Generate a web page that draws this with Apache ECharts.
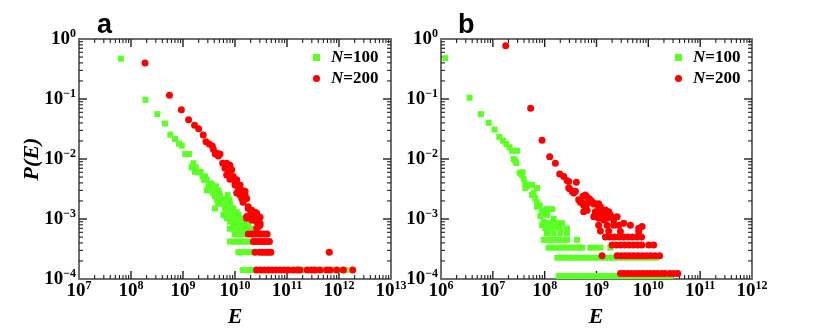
<!DOCTYPE html>
<html>
<head>
<meta charset="utf-8">
<script src="https://cdn.jsdelivr.net/npm/echarts@6/dist/echarts.min.js"></script>
<style>
  html, body { margin: 0; padding: 0; background: #fff; }
  #chart { width: 830px; height: 333px; }
</style>
</head>
<body>
<div id="chart"></div>
<script>
// Energy distributions P(E), two panels, two system sizes each

const seriesNames = ['N=100', 'N=200'];
const panelLabels = ['a', 'b'];
const xRangeA = [1e7, 1e13];
const xRangeB = [1e6, 1e12];
const yRange = [1e-4, 1];

// panel a, N=100  [E, P]
const aGreen = [
  [6.4e7, 0.47], [1.9e8, 0.097], [3.2e8, 0.056], [4.5e8, 0.039], [5.7e8, 0.0254], [7.0e8, 0.0216],
  [8.4e8, 0.018], [9.5e8, 0.0167], [1.1e9, 0.0121], [1.3e9, 0.0121], [1.58e9, 0.0085], [1.47e9, 0.0073],
  [1.75e9, 0.0073], [1.7e9, 0.0061], [1.97e9, 0.0061], [2.19e9, 0.0061], [2.39e9, 0.0051], [2.65e9, 0.0051],
  [2.53e9, 0.0045], [2.86e9, 0.0045], [3.2e9, 0.0039], [3.56e9, 0.0039], [3.07e9, 0.0035], [3.83e9, 0.0035],
  [4.3e9, 0.0035], [2.86e9, 0.003], [3.56e9, 0.003], [4.45e9, 0.003], [4.78e9, 0.003], [3.83e9, 0.0027],
  [4.99e9, 0.0027], [7.2e9, 0.0025], [4.12e9, 0.0024], [4.57e9, 0.0024], [5.15e9, 0.0024], [4.45e9, 0.0021],
  [5.55e9, 0.0021], [6.42e9, 0.0021], [7.77e9, 0.0021], [4.78e9, 0.0018], [5.96e9, 0.0018], [6.92e9, 0.0018],
  [8.0e9, 0.0018], [4.12e9, 0.0015], [6.42e9, 0.0015], [7.77e9, 0.0015], [9.27e9, 0.0015], [6.92e9, 0.0013],
  [8.65e9, 0.0013], [1.08e10, 0.0013], [5.96e9, 0.00117], [8.0e9, 0.00117], [1.0e10, 0.00117], [1.16e10, 0.00117],
  [6.92e9, 0.00103], [8.65e9, 0.00103], [1.08e10, 0.00103], [1.35e10, 0.00103], [8.0e9, 9.0e-4], [1.0e10, 9.0e-4],
  [1.25e10, 9.0e-4], [1.56e10, 9.0e-4], [9.27e9, 7.9e-4], [1.16e10, 7.9e-4], [1.43e10, 7.9e-4], [1.8e10, 7.9e-4],
  [8.0e9, 6.9e-4], [9.3e9, 6.9e-4], [1.08e10, 6.9e-4], [1.25e10, 6.9e-4], [1.45e10, 6.9e-4], [1.7e10, 6.9e-4], [2.0e10, 6.9e-4],
  [1.0e10, 5.6e-4], [1.2e10, 5.6e-4], [1.4e10, 5.6e-4], [1.65e10, 5.6e-4], [1.9e10, 5.6e-4], [2.2e10, 5.6e-4],
  [8.0e9, 4.2e-4], [9.5e9, 4.2e-4], [1.1e10, 4.2e-4], [1.3e10, 4.2e-4], [1.55e10, 4.2e-4], [1.8e10, 4.2e-4],
  [2.1e10, 4.2e-4], [2.5e10, 4.2e-4], [3.0e10, 4.2e-4], [3.6e10, 4.2e-4],
  [1.16e10, 2.8e-4], [1.35e10, 2.8e-4], [1.6e10, 2.8e-4], [1.9e10, 2.8e-4], [2.2e10, 2.8e-4], [2.6e10, 2.8e-4],
  [3.1e10, 2.8e-4], [3.7e10, 2.8e-4], [4.4e10, 2.8e-4],
  [1.4e10, 1.41e-4], [1.8e10, 1.41e-4], [2.2e10, 1.41e-4], [2.8e10, 1.41e-4], [3.5e10, 1.41e-4], [4.5e10, 1.41e-4],
  [5.6e10, 1.41e-4], [7e10, 1.41e-4], [9e10, 1.41e-4], [1.1e11, 1.41e-4], [1.4e11, 1.41e-4], [1.8e11, 1.41e-4],
  [2.2e11, 1.41e-4], [2.8e11, 1.41e-4], [3.5e11, 1.41e-4], [4.5e11, 1.41e-4], [5.6e11, 1.41e-4], [7e11, 1.41e-4],
  [9e11, 1.41e-4], [1.1e12, 1.41e-4], [1.35e12, 1.41e-4]
];

// panel a, N=200
const aRed = [
  [1.86e8, 0.40], [5.5e8, 0.115], [9.3e8, 0.066], [1.28e9, 0.045], [1.67e9, 0.0365], [2.0e9, 0.032],
  [2.45e9, 0.025], [2.77e9, 0.0194], [3.2e9, 0.0178], [3.66e9, 0.0165], [3.83e9, 0.0145], [4.45e9, 0.0125],
  [5.15e9, 0.0121], [4.78e9, 0.0112], [4.18e9, 0.0121], [5.8e9, 0.0085], [6.92e9, 0.0085], [8.0e9, 0.0079],
  [6.42e9, 0.007], [7.43e9, 0.0061], [8.65e9, 0.0066], [6.92e9, 0.0054], [9.27e9, 0.0051], [8.0e9, 0.0046],
  [1.0e10, 0.0042], [1.08e10, 0.0045], [1.25e10, 0.0037], [1.0e10, 0.0037], [1.16e10, 0.0033], [1.35e10, 0.003],
  [1.56e10, 0.0029], [1.08e10, 0.0027], [1.25e10, 0.0025], [1.56e10, 0.0025], [1.43e10, 0.0024], [1.35e10, 0.0022],
  [1.68e10, 0.0022], [1.43e10, 0.0019], [1.8e10, 0.0016], [1.8e10, 0.0015], [2.1e10, 0.0014], [2.43e10, 0.0013],
  [2.61e10, 0.00125], [1.94e10, 0.00117], [2.25e10, 0.0011], [2.61e10, 0.0011], [1.68e10, 0.0011], [3.03e10, 0.00107],
  [1.68e10, 0.00103], [2.1e10, 9.6e-4], [2.25e10, 9.6e-4], [2.61e10, 9.0e-4], [3.03e10, 8.5e-4], [3.03e10, 7.9e-4],
  [2.8e10, 7.4e-4], [2.61e10, 7.0e-4],
  [1.8e10, 5.6e-4], [2.1e10, 5.6e-4], [2.4e10, 5.6e-4], [2.8e10, 5.6e-4], [3.2e10, 5.6e-4], [3.7e10, 5.6e-4], [4.15e10, 5.6e-4],
  [2.25e10, 4.2e-4], [2.6e10, 4.2e-4], [3.0e10, 4.2e-4], [3.5e10, 4.2e-4], [4.0e10, 4.2e-4], [4.6e10, 4.2e-4],
  [2.43e10, 2.8e-4], [3.0e10, 2.8e-4], [3.4e10, 2.8e-4], [3.9e10, 2.8e-4], [4.4e10, 2.8e-4], [4.9e10, 2.8e-4], [6.5e11, 2.8e-4],
  [2.6e10, 1.41e-4], [3.1e10, 1.41e-4], [3.7e10, 1.41e-4], [4.4e10, 1.41e-4], [5.2e10, 1.41e-4], [6.2e10, 1.41e-4],
  [7.4e10, 1.41e-4], [8.8e10, 1.41e-4], [1.05e11, 1.41e-4], [1.32e11, 1.41e-4], [1.58e11, 1.41e-4], [1.78e11, 1.41e-4],
  [2.46e11, 1.41e-4], [2.98e11, 1.41e-4], [3.45e11, 1.41e-4], [4.3e11, 1.41e-4], [5.8e11, 1.41e-4], [6.7e11, 1.41e-4],
  [9.0e11, 1.41e-4], [1.21e12, 1.41e-4], [1.83e12, 1.41e-4]
];

// panel b, N=100
const bGreen = [
  [1.21e6, 0.48], [3.56e6, 0.105], [5.9e6, 0.056], [8.3e6, 0.04], [1.08e7, 0.031], [1.33e7, 0.0235],
  [1.57e7, 0.0202], [1.82e7, 0.0178], [2.11e7, 0.0157], [2.35e7, 0.0137], [2.93e7, 0.0137], [2.52e7, 0.01],
  [2.72e7, 0.0094], [2.85e7, 0.0085], [3.29e7, 0.0059], [3.76e7, 0.006], [3.5e7, 0.0058], [3.66e7, 0.0054],
  [3.94e7, 0.0046], [4.24e7, 0.0039], [4.91e7, 0.0037], [5.71e7, 0.0037], [4.57e7, 0.0035], [4.24e7, 0.0033],
  [7.13e7, 0.0033], [6.14e7, 0.0027], [5.71e7, 0.0025], [6.61e7, 0.0022], [7.13e7, 0.0019], [8.0e7, 0.0017],
  [7.13e7, 0.0016], [8.9e7, 0.0014], [1.11e8, 0.00146], [1.39e8, 0.00146], [9.57e7, 0.00124], [8.26e7, 0.00112],
  [1.11e8, 0.00117], [1.49e8, 0.00101], [9.57e7, 9.0e-4], [1.49e8, 9.0e-4], [1.19e8, 8.5e-4], [1.86e8, 8.5e-4],
  [2.17e8, 8.5e-4], [8.9e7, 7.9e-4], [1.61e8, 7.4e-4], [1.03e8, 7.0e-4], [1.29e8, 7.0e-4], [2.01e8, 7.0e-4],
  [2.7e8, 6.9e-4], [1.11e8, 5.8e-4], [1.49e8, 5.8e-4], [2.01e8, 5.8e-4], [2.7e8, 5.8e-4],
  [9.6e7, 4.5e-4], [1.15e8, 4.5e-4], [1.35e8, 4.5e-4], [1.6e8, 4.5e-4], [1.9e8, 4.5e-4], [2.3e8, 4.5e-4],
  [2.7e8, 4.5e-4], [4.2e8, 4.5e-4],
  [1.19e8, 3.33e-4], [1.4e8, 3.33e-4], [1.65e8, 3.33e-4], [1.95e8, 3.33e-4], [2.3e8, 3.33e-4], [2.75e8, 3.33e-4],
  [3.25e8, 3.33e-4], [3.85e8, 3.33e-4], [4.55e8, 3.33e-4], [5.3e8, 3.33e-4], [7.6e8, 3.33e-4], [9.5e8, 3.33e-4],
  [1.19e9, 3.33e-4], [1.85e9, 3.33e-4],
  [1.75e8, 2.26e-4], [2.2e8, 2.26e-4], [2.8e8, 2.26e-4], [3.5e8, 2.26e-4], [4.4e8, 2.26e-4], [5.5e8, 2.26e-4],
  [7e8, 2.26e-4], [8.8e8, 2.26e-4], [1.1e9, 2.26e-4], [1.4e9, 2.26e-4], [1.75e9, 2.26e-4], [2.2e9, 2.26e-4],
  [2.8e9, 2.26e-4], [3.5e9, 2.26e-4], [4.4e9, 2.26e-4], [5.5e9, 2.26e-4], [7e9, 2.26e-4], [8.8e9, 2.26e-4],
  [1.1e10, 2.26e-4], [1.4e10, 2.26e-4],
  [1.86e8, 1.12e-4], [2.3e8, 1.12e-4], [2.9e8, 1.12e-4], [3.7e8, 1.12e-4], [4.6e8, 1.12e-4], [5.8e8, 1.12e-4],
  [7.3e8, 1.12e-4], [9.2e8, 1.12e-4], [1.15e9, 1.12e-4], [1.45e9, 1.12e-4], [1.8e9, 1.12e-4], [2.3e9, 1.12e-4],
  [2.9e9, 1.12e-4], [3.6e9, 1.12e-4], [4.6e9, 1.12e-4], [5.8e9, 1.12e-4], [7.2e9, 1.12e-4], [9.1e9, 1.12e-4],
  [1.15e10, 1.12e-4], [1.45e10, 1.12e-4], [1.8e10, 1.12e-4], [2.3e10, 1.12e-4], [2.7e10, 1.12e-4]
];

// panel b, N=200
const bRed = [
  [1.77e7, 0.77], [5.37e7, 0.07], [8.9e7, 0.0205], [1.25e8, 0.0109], [1.61e8, 0.0085], [1.95e8, 0.0056],
  [2.33e8, 0.0051], [2.7e8, 0.0044], [2.91e8, 0.0042], [4.09e8, 0.0041], [2.91e8, 0.0033], [3.04e8, 0.0032],
  [3.38e8, 0.0029], [3.53e8, 0.0028], [3.92e8, 0.0029], [3.63e8, 0.0027], [5.5e8, 0.0024], [6.38e8, 0.0024],
  [6.1e8, 0.0025], [4.53e8, 0.0021], [7.08e8, 0.0022], [7.62e8, 0.0021], [4.89e8, 0.0019], [5.27e8, 0.00187],
  [7.08e8, 0.00194], [8.2e8, 0.00194], [5.66e8, 0.0017], [6.58e8, 0.0018], [8.83e8, 0.00178], [9.5e8, 0.0018],
  [1.1e9, 0.0018], [6.1e8, 0.0016], [1.1e9, 0.0016], [1.19e9, 0.0016], [6.58e8, 0.0014], [1.19e9, 0.00141],
  [1.49e9, 0.00141], [5.66e8, 0.00132], [9.5e8, 0.00132], [1.72e9, 0.00132], [1.28e9, 0.00124], [9.5e8, 0.00117],
  [1.1e9, 0.00117], [1.72e9, 0.00117], [1.85e9, 0.00117], [8.83e8, 0.00109], [1.49e9, 0.00109], [2.5e9, 0.00109],
  [2.0e9, 0.00107], [1.1e9, 0.00103], [1.6e9, 0.00103], [1.38e9, 9.6e-4], [2.15e9, 9.6e-4], [3.35e9, 8.5e-4],
  [1.1e9, 7.9e-4], [1.6e9, 7.9e-4], [2.15e9, 7.9e-4], [2.69e9, 7.9e-4], [4.51e9, 7.9e-4], [7.59e9, 7.5e-4],
  [6.53e9, 7.0e-4], [1.19e9, 6.3e-4], [1.72e9, 6.3e-4], [2.89e9, 6.2e-4], [6.53e9, 6.2e-4],
  [1.49e9, 5.0e-4], [1.8e9, 5.0e-4], [2.2e9, 5.0e-4], [2.7e9, 5.0e-4], [3.3e9, 5.0e-4], [4.0e9, 5.0e-4],
  [4.9e9, 5.0e-4], [6.0e9, 5.0e-4], [7.4e9, 5.0e-4],
  [2.0e9, 3.7e-4], [2.4e9, 3.7e-4], [2.9e9, 3.7e-4], [3.5e9, 3.7e-4], [4.2e9, 3.7e-4], [5.1e9, 3.7e-4],
  [6.2e9, 3.7e-4], [7.5e9, 3.7e-4], [1.02e10, 3.7e-4], [1.27e10, 3.7e-4],
  [1.28e9, 2.45e-4], [2.5e9, 2.45e-4], [3.0e9, 2.45e-4], [3.6e9, 2.45e-4], [4.3e9, 2.45e-4], [5.2e9, 2.45e-4],
  [6.3e9, 2.45e-4], [7.6e9, 2.45e-4], [9.2e9, 2.45e-4], [1.1e10, 2.45e-4], [1.35e10, 2.45e-4], [1.65e10, 2.45e-4],
  [2.9e9, 1.24e-4], [3.4e9, 1.24e-4], [4.0e9, 1.24e-4], [4.7e9, 1.24e-4], [5.6e9, 1.24e-4], [6.6e9, 1.24e-4],
  [7.8e9, 1.24e-4], [9.2e9, 1.24e-4], [1.08e10, 1.24e-4], [1.28e10, 1.24e-4], [1.5e10, 1.24e-4], [1.8e10, 1.24e-4],
  [2.1e10, 1.24e-4], [2.6e10, 1.24e-4], [3.1e10, 1.24e-4], [3.7e10, 1.24e-4]
];

const GREEN = '#5cff24';
const RED = '#ff0000';
const AXIS_GRAY = '#6e6e6e';
const TICK_DARK = '#1e1e1e';
const SERIF = '"Liberation Serif", "DejaVu Serif", serif';
const SANS = '"Liberation Sans", Arial, sans-serif';

// tick positions on a log range: [value, 1 = decade / 0 = minor]
function logTicks(lo, hi) {
  const out = [];
  for (let d = lo; d < hi * 0.99; d *= 10) {
    if (d > lo * 1.01) out.push([d, 1]);
    for (let k = 2; k <= 9; k++) out.push([k * d, 0]);
  }
  return out;
}

function supLabel(v) {
  const e = Math.round(Math.log10(v));
  return '{b|10}{s|' + String(e).replace('-', '\u2212') + '}';
}

const labelRich = {
  b: { fontFamily: SERIF, fontWeight: 'bold', fontSize: 19, color: '#000', lineHeight: 22 },
  s: { fontFamily: SERIF, fontWeight: 'bold', fontSize: 12, color: '#000', lineHeight: 10, verticalAlign: 'top' }
};

// labelled side + plain opposite side of the frame
function axisPair(dim, grid, range) {
  const base = {
    type: 'log', logBase: 10, gridIndex: grid, min: range[0], max: range[1],
    splitLine: { show: false }, axisTick: { show: false }
  };
  const line = { show: true, onZero: false, lineStyle: { color: AXIS_GRAY, width: 2 } };
  const sides = dim === 'x' ? ['bottom', 'top'] : ['left', 'right'];
  return [
    Object.assign({}, base, {
      position: sides[0], axisLine: line,
      axisLabel: { formatter: supLabel, rich: labelRich, margin: dim === 'x' ? 1 : 3 }
    }),
    Object.assign({}, base, { position: sides[1], axisLine: line, axisLabel: { show: false } })
  ];
}

// inward ticks on both frame sides, placed through the axis scales
function tickSeries(axisIdx, xRange, dim) {
  const range = dim === 'x' ? xRange : yRange;
  const data = logTicks(range[0], range[1]).map(t => dim === 'x' ? [t[0], yRange[0], t[1]] : [xRange[0], t[0], t[1]]);
  return {
    type: 'custom', xAxisIndex: axisIdx, yAxisIndex: axisIdx, silent: true, z: 1, data: data,
    renderItem: (params, api) => {
      const v = api.value(dim === 'x' ? 0 : 1);
      const len = api.value(2) === 1 ? 8 : 4;
      const style = { stroke: TICK_DARK, lineWidth: api.value(2) === 1 ? 1.4 : 1.1 };
      if (dim === 'x') {
        const b = api.coord([v, yRange[0]]);
        const t = api.coord([v, yRange[1]]);
        return { type: 'group', children: [
          { type: 'line', shape: { x1: b[0], y1: b[1], x2: b[0], y2: b[1] - len }, style: style },
          { type: 'line', shape: { x1: t[0], y1: t[1], x2: t[0], y2: t[1] + len }, style: style }
        ] };
      }
      const l = api.coord([xRange[0], v]);
      const r = api.coord([xRange[1], v]);
      return { type: 'group', children: [
        { type: 'line', shape: { x1: l[0], y1: l[1], x2: l[0] + len, y2: l[1] }, style: style },
        { type: 'line', shape: { x1: r[0], y1: r[1], x2: r[0] - len, y2: r[1] }, style: style }
      ] };
    }
  };
}

function legendFor(left) {
  return {
    data: seriesNames, orient: 'vertical', left: left, top: 44, itemWidth: 7, itemHeight: 7, itemGap: 4,
    selectedMode: false,
    formatter: n => '{g|}{i|N}{t|' + n.slice(1) + '}',
    textStyle: {
      rich: {
        g: { width: 6 },
        i: { fontFamily: SERIF, fontWeight: 'bold', fontStyle: 'italic', fontSize: 17, color: '#000', lineHeight: 17 },
        t: { fontFamily: SERIF, fontWeight: 'bold', fontSize: 17, color: '#000', lineHeight: 17 }
      }
    }
  };
}

function scatter(name, xi, data, green) {
  return {
    name: name, type: 'scatter', xAxisIndex: xi, yAxisIndex: xi, data: data, z: 3,
    symbol: green ? 'rect' : 'circle', symbolSize: green ? 6 : 7,
    itemStyle: { color: green ? GREEN : RED, opacity: 1 }
  };
}

// axis titles as plain text
const titleFontCss = 'italic bold 22px "Liberation Serif", "DejaVu Serif", serif';
function axisTitle(text, x, y, rotate) {
  return {
    type: 'text', x: x, y: y, rotation: rotate ? Math.PI / 2 : 0, silent: true,
    style: { text: text, font: titleFontCss, fill: '#000', align: 'center', verticalAlign: 'middle' }
  };
}

const chart = echarts.init(document.getElementById('chart'));

const letterFont = { fontFamily: SANS, fontWeight: 'bold', fontSize: 27, color: '#000' };

chart.setOption({
  animation: false,
  title: [
    { text: panelLabels[0], left: 97, top: 12, padding: 0, textStyle: letterFont },
    { text: panelLabels[1], left: 458, top: 12, padding: 0, textStyle: letterFont }
  ],
  legend: [legendFor(308), legendFor(670)],
  grid: [
    { left: 79, top: 39, width: 312, height: 240, outerBoundsMode: 'none' },
    { left: 441, top: 39, width: 311, height: 240, outerBoundsMode: 'none' }
  ],
  xAxis: [].concat(axisPair('x', 0, xRangeA), axisPair('x', 1, xRangeB)),
  yAxis: [].concat(axisPair('y', 0, yRange), axisPair('y', 1, yRange)),
  graphic: [
    axisTitle('E', 235, 317, false),
    axisTitle('E', 596, 317, false),
    axisTitle('P(E)', 32, 159, true)
  ],
  series: [
    tickSeries(0, xRangeA, 'x'),
    tickSeries(0, xRangeA, 'y'),
    tickSeries(2, xRangeB, 'x'),
    tickSeries(2, xRangeB, 'y'),
    scatter(seriesNames[0], 0, aGreen, true),
    scatter(seriesNames[1], 0, aRed, false),
    scatter(seriesNames[0], 2, bGreen, true),
    scatter(seriesNames[1], 2, bRed, false)
  ]
});

window.addEventListener('resize', () => chart.resize());
</script>
</body>
</html>
